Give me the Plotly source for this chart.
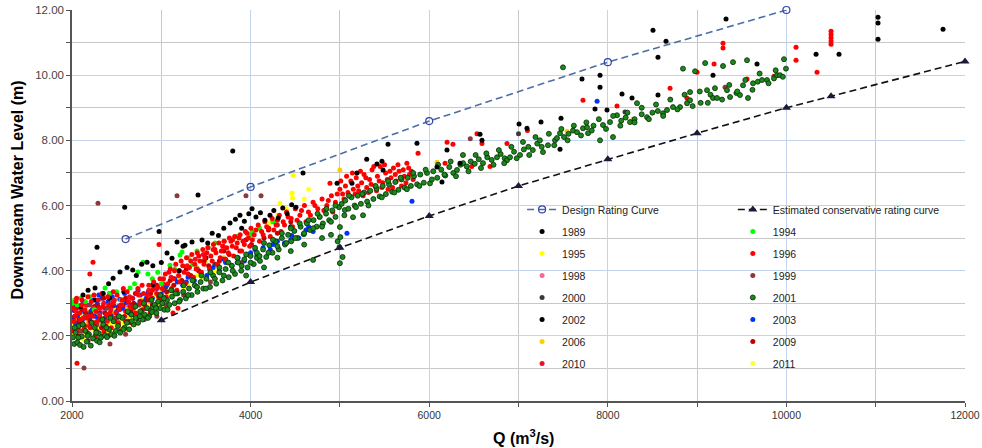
import plotly.graph_objects as go

# ---------------- data ----------------
design_q = [2600, 4000, 6000, 8000, 10000]
design_wl = [4.97, 6.57, 8.59, 10.40, 12.00]

cons_q = [3000, 4000, 5000, 6000, 7000, 8000, 9000, 10000, 10500, 12000]
cons_wl = [2.48, 3.65, 4.70, 5.68, 6.60, 7.42, 8.22, 9.00, 9.35, 10.42]

pts_1989 = [(2123,3.25),(2258,3.47),(2280,4.72),(2460,3.77),(2537,3.96),(2590,5.95),(2616,4.10),(2680,4.02),
            (2840,4.26),(2905,4.15),(2975,5.20),(3064,4.54),(3120,4.38),(3176,4.88),(3243,4.75),(3265,4.78),
            (3344,4.88),(3411,6.32),(3456,4.94),(3520,4.85),(3570,5.15),(3640,5.08),(3700,5.30),(3770,5.46),
            (3800,7.67),(3830,5.58),(3881,5.70),(3930,5.52),(3980,5.75),(4016,5.90),(4060,5.65),(4110,5.78),
            (4160,5.55),(4217,5.70),(4260,5.85),(4310,5.62),(4360,5.92),(4410,5.75),(4460,6.02),(4508,5.95),
            (4587,7.00),(4968,6.68),(5135,6.68),(5191,7.00),(5300,7.42),(5415,7.27),(5471,7.36),(5483,7.09),
            (5539,7.88),(5863,7.91),(6087,7.18),(6143,6.72),(6199,7.70),(6345,7.30),(6569,8.19),(6591,8.00),
            (7006,8.50),(7095,8.37),(7252,8.56),(7465,7.73),(7476,8.68),(7711,9.88),(7857,8.96),(7913,10.00),
            (7913,9.63),(7991,8.93),(8159,9.42),(8271,9.30),(8506,11.38),(8562,10.55),(8562,9.39),(8652,11.04),
            (9178,10.00),(9324,11.72),(9671,10.34),(10332,10.64),(10589,10.64),(11026,11.78),(11026,11.60),
            (11026,11.10),(11754,11.41),(2180,3.40),(2350,3.30),(2410,3.60),(2720,3.85),(2780,4.20),(3000,4.25)]

pts_1994 = [(2010,3.00),(2030,3.10),(2060,2.95),(2100,3.15),(2150,3.05),(2200,3.20),(2250,2.80),(2370,3.47),
            (2420,3.30),(2500,3.35),(2550,3.10),(2650,3.47),(2700,3.60),(2739,3.96),(2795,4.26),(2850,3.90),
            (2900,3.75),(2960,3.95),(3000,3.60),(3097,4.17),(3150,4.05),(3210,4.48),(3232,4.57),(3300,4.40),
            (3350,4.20),(3400,4.60),(3523,4.72),(3600,4.85),(3700,4.90),(3850,5.05),(4000,5.10),(4016,5.18),
            (4100,5.30),(4250,5.50)]

pts_1995 = [(2010,2.10),(2030,2.40),(2050,2.00),(2080,2.30),(2100,2.60),(2120,1.90),(2150,2.20),(2180,2.50),
            (2200,2.00),(2230,2.35),(2260,2.15),(2300,2.50),(2330,2.05),(2360,2.30),(2400,2.60),(2430,2.20),
            (2470,2.45),(2500,2.30),(2540,2.60),(2580,2.40),(2620,2.70),(2660,2.50),(2700,2.35),(2750,2.75),
            (2800,2.60),(2850,2.90),(2900,2.70),(2950,3.00),(3050,3.10),(3150,3.30),(3300,3.60),(3450,3.70),
            (3600,4.00),(4217,5.46),(4300,5.70),(4329,6.07),(4400,5.90),(4464,6.38),(4470,6.23),(4475,6.93),
            (2005,2.30),(2040,1.95),(2070,2.55),(2095,2.25),(2135,2.45),(2165,2.05),(2195,2.75),(2245,2.45),
            (2275,2.80),(2315,2.25),(2380,2.65),(2420,2.40),(2460,2.85),(2515,2.55),(2560,2.25),(2605,2.85),
            (2640,2.55),(2690,2.95),(2730,2.55),(2780,2.85),(2830,3.05),(2880,2.80),(2930,3.20),(2990,2.95),
            (3100,3.30),(3250,3.45),(3400,3.85)]

pts_1996 = [(2010,2.85),(2025,2.45),(2045,3.05),(2056,1.16),(2065,2.25),(2085,2.70),(2105,2.95),(2120,2.35),
            (2145,2.80),(2170,2.10),(2185,2.60),(2200,3.90),(2215,3.05),(2235,4.26),(2250,2.40),(2268,2.75),
            (2295,3.10),(2318,2.50),(2344,2.90),(2380,2.30),(2402,3.20),(2425,2.70),(2455,3.00),(2478,2.45),
            (2505,3.25),(2530,2.80),(2562,3.10),(2590,2.60),(2618,3.35),(2648,2.90),(2675,3.15),(2712,2.70),
            (2738,3.45),(2770,3.00),(2802,3.30),(2828,2.85),(2860,3.55),(2888,3.15),(2915,3.65),(2948,3.30),
            (2974,4.80),(2985,3.75),(3012,3.45),(3045,3.90),(3072,3.60),(3100,4.05),(3131,2.70),(3138,3.75),
            (3162,4.20),(3187,2.85),(3194,3.85),(3222,4.30),(3255,3.95),(3282,4.40),(3315,4.10),(3342,4.50),
            (3375,4.20),(3403,4.55),(3432,4.30),(3465,4.65),(3488,4.40),(3522,4.70),(3555,4.45),(3584,4.80),
            (3612,4.55),(3645,4.85),(3672,4.60),(3705,4.90),(3733,4.70),(3762,5.00),(3795,4.75),(3822,5.05),
            (3850,4.85),(3883,5.10),(3915,4.90),(3942,5.20),(3975,5.00),(4004,5.30),(4040,5.10),(4085,5.40),
            (4123,5.20),(4160,5.50),(4204,5.30),(4242,5.60),(4285,5.40),(4322,5.70),(4365,5.50),(4402,5.80),
            (4455,5.60),(4500,5.90),(4552,5.70),(4603,6.00),(4648,5.80),(4700,6.10),(4752,5.90),(4800,6.20),
            (4853,6.00),(4889,6.68),(4905,6.30),(4950,6.10),(5000,6.50),(5030,6.35),(5062,6.60),(5090,6.40),
            (5122,6.75),(5150,6.50),(5183,6.85),(5210,6.45),(5243,6.70),(5270,6.95),(5300,6.55),(5332,6.80),
            (5360,7.10),(5392,6.60),(5420,6.90),(5452,7.20),(5480,6.70),(5512,7.00),(5540,6.50),(5572,6.85),
            (5600,7.15),(5630,6.75),(5662,7.05),(5690,6.60),(5722,6.90),(5750,7.30),(5780,6.95),(5875,7.60),
            (6177,7.30),(6200,7.94),(6266,7.88),(6476,7.20),(6535,8.20),(6591,7.90),(6681,7.20),(6871,7.90),
            (7100,8.30),(7722,9.23),(8103,9.05),(8697,9.60),(8887,9.29),(9000,10.09),(9190,10.34),(9290,10.98),
            (9290,10.83),(9559,9.88),(9861,9.97),(10108,10.86),(10108,10.46),(10343,10.09),(10500,10.95),
            (10500,11.05),(10500,11.15),(10500,11.25),(10500,11.35),
            (2015,2.15),(2035,2.60),(2052,3.15),(2078,1.95),(2095,2.50),(2112,3.10),(2138,2.20),(2160,2.55),
            (2178,3.20),(2205,2.25),(2228,2.60),(2246,3.25),(2262,1.95),(2285,2.45),(2308,2.85),(2335,3.30),
            (2358,2.15),(2388,2.65),(2410,2.95),(2440,2.25),(2462,3.35),(2490,2.70),(2518,2.35),(2545,2.95),
            (2575,3.45),(2600,2.45),(2632,3.05),(2660,2.40),(2688,2.85),(2725,3.30),(2755,2.60),(2785,3.55),
            (2815,2.95),(2845,3.25),(2875,2.70),(2900,3.40),(2935,2.95),(2960,3.50),(2995,3.10),(3025,3.75),
            (3055,3.20),(3085,3.95),(3115,3.45),(3148,4.00),(3175,3.40),(3208,3.65),(3240,4.15),(3270,3.60),
            (3300,3.90),(3330,4.30),(3360,3.80),(3390,4.05),(3420,4.45),(3450,3.95),(3478,4.20),(3510,4.55),
            (3540,4.05),(3570,4.30),(3600,4.65),(3630,4.20),(3660,4.40),(3690,4.75),(3720,4.35),(3750,4.55),
            (3780,4.90),(3810,4.45),(3840,4.70),(3870,5.00),(3900,4.60),(3930,4.80),(3960,5.15),(3990,4.75),
            (4020,4.95),(4060,5.25),(4100,4.90),(4140,5.10),(4180,5.35),(4220,5.05),(4260,5.25),(4300,5.55),
            (4340,5.20),(4380,5.40),(4420,5.65),(4470,5.35),(4520,5.55),(4570,5.85),(4620,5.50),(4670,5.70),
            (4720,6.00),(4770,5.65),(4820,5.85),(4870,6.15),(4920,5.80),(4970,6.35),(5010,6.75),(5045,6.20),
            (5075,6.90),(5105,6.30),(5140,7.00),(5170,6.35),(5200,6.60),(5230,7.05),(5260,6.30),(5290,6.85),
            (5320,6.40),(5350,6.65),(5380,7.20),(5410,6.45),(5440,6.75),(5470,6.55),(5500,7.25),(5530,6.80),
            (5560,7.05),(5590,6.55),(5620,6.95),(5650,7.25),(5680,6.85),(5710,7.10),(5740,6.70),(5770,7.15),
            (5800,7.05),(5820,6.80)]

pts_1998 = [(2060,2.65),(2190,2.40),(2330,2.75),(2460,2.55),(2610,2.95),(2880,3.05),(3300,3.90)]

pts_1999 = [(2050,2.25),(2134,1.01),(2150,2.60),(2280,2.35),(2291,6.07),(2390,2.85),(2425,1.75),(2520,2.40),
            (2670,2.65),(2810,2.50),(3050,2.95),(3176,6.30),(3400,3.50),(3900,4.25),(3948,6.30),(4117,6.30),
            (4300,5.40),(9313,9.63),(2100,2.15),(2200,2.95),(2350,2.00),(2500,2.55),(2600,2.05),(2750,2.95),
            (2950,2.60),(3250,3.25),(3550,3.65),(6460,8.05)]

pts_2000 = [(2080,2.50),(2210,2.75),(2370,2.55),(2560,2.85),(2760,3.05),(3050,3.50),(3600,4.20),(7000,8.20),
            (8193,8.87)]

pts_2001 = [(2010,1.95),(2025,1.75),(2040,2.10),(2060,1.80),(2075,2.30),(2090,1.72),(2110,1.98),(2130,1.66),
            (2150,2.15),(2165,1.82),(2190,2.05),(2210,1.70),(2235,1.92),(2255,2.25),(2280,1.85),(2300,2.08),
            (2325,1.95),(2350,2.35),(2370,2.02),(2392,1.96),(2415,2.20),(2440,2.05),(2465,2.45),(2490,2.15),
            (2515,2.30),(2540,2.10),(2565,2.55),(2590,2.25),(2615,2.40),(2640,2.20),(2665,2.65),(2690,2.35),
            (2715,2.55),(2740,2.40),(2765,2.75),(2790,2.50),(2815,2.65),(2840,2.85),(2865,2.60),(2885,2.78),
            (2896,2.73),(2907,2.88),(2925,2.95),(2945,2.70),(2965,3.05),(2985,2.85),(3010,3.00),(3035,2.80),
            (3064,3.10),(3090,2.95),(3120,3.20),(3150,3.00),(3180,3.30),(3210,3.10),(3245,3.35),(3275,3.15),
            (3310,3.45),(3340,3.25),(3375,3.55),(3405,3.35),(3440,3.65),(3470,3.45),(3505,3.75),(3545,3.50),
            (3580,3.85),(3615,3.60),(3650,3.95),(3685,3.70),(3720,4.05),(3755,3.80),(3790,4.15),(3825,3.90),
            (3860,4.25),(3895,4.00),(3930,4.35),(3950,3.85),(3965,4.10),(4000,4.45),(4035,4.20),(4070,4.55),
            (4072,4.39),(4105,4.30),(4140,4.65),(4150,4.10),(4175,4.42),(4210,4.78),(4245,4.55),(4280,4.90),
            (4300,4.40),(4315,4.65),(4350,5.00),(4385,4.80),(4420,5.10),(4450,4.60),(4455,4.90),(4490,5.22),
            (4525,5.00),(4560,5.35),(4595,5.12),(4600,4.80),(4630,5.45),(4665,5.25),(4700,4.33),(4705,5.55),
            (4740,5.35),(4775,5.65),(4800,5.00),(4810,5.45),(4845,5.75),(4880,5.55),(4900,5.10),(4915,5.85),
            (4950,5.65),(4975,4.90),(4990,5.95),(5000,5.34),(5005,5.03),(4995,4.72),(5030,4.42),(5000,4.23),
            (5020,6.05),(5055,5.86),(5060,6.15),(5095,5.90),(5130,6.25),(5147,5.64),(5165,6.00),(5200,6.30),
            (5235,6.05),(5259,5.70),(5270,6.40),(5305,6.12),(5340,6.45),(5375,6.20),(5410,6.52),(5445,6.28),
            (5480,6.60),(5515,6.35),(5550,6.65),(5585,6.42),(5620,6.72),(5655,6.48),(5690,6.80),(5725,6.55),
            (5760,6.85),(5795,6.60),(5830,6.90),(5865,6.65),(5900,6.95),(5940,6.70),(5975,7.00),(6009,6.68),
            (6045,7.05),(6090,6.85),(6135,7.10),(6180,6.92),(6225,7.18),(6270,7.00),(6311,7.09),(6350,7.25),
            (6378,7.55),(6420,7.20),(6465,7.35),(6510,7.28),(6555,7.42),(6602,7.30),(6650,7.48),(6700,7.40),
            (6759,7.48),(6800,7.58),(6845,7.45),(6871,7.39),(6905,7.48),(6950,7.65),(7017,7.55),(7060,7.72),
            (7110,7.80),(7160,7.70),(7210,7.90),(7240,8.00),(7274,7.64),(7330,7.85),(7409,8.00),(7431,8.07),
            (7465,8.22),(7498,10.24),(7510,8.10),(7560,8.20),(7610,8.30),(7655,8.25),(7722,8.37),(7767,8.40),
            (7779,8.22),(7840,8.45),(7913,8.00),(7946,8.47),(8025,8.56),(8058,8.10),(8103,8.77),(8150,8.60),
            (8200,8.70),(8249,8.56),(8300,8.65),(8327,9.14),(8380,8.80),(8439,8.71),(8500,8.85),(8560,8.90),
            (8618,8.83),(8663,8.93),(8730,9.02),(8809,9.02),(8842,10.20),(8887,9.14),(8921,9.23),(8921,9.48),
            (8977,10.12),(9040,9.15),(9090,10.37),(9111,9.54),(9150,9.40),(9178,9.30),(9223,9.30),(9290,10.28),
            (9335,9.54),(9369,9.33),(9402,10.40),(9440,9.45),(9480,9.39),(9514,9.69),(9559,10.46),(9570,9.30),
            (9626,9.75),(9680,9.80),(9727,9.85),(9783,9.85),(9861,9.90),(9895,10.00),(9928,10.00),(9973,10.49),
            (9995,10.20),
            (2030,2.25),(2070,1.95),(2120,2.35),(2175,2.00),(2220,2.40),(2270,2.10),(2310,1.80),(2340,2.50),
            (2385,2.25),(2430,2.55),(2475,2.00),(2525,2.60),(2575,2.20),(2625,2.75),(2670,2.45),(2710,2.90),
            (2760,2.60),(2805,3.00),(2850,2.55),(2890,3.10),(2940,2.85),(2990,3.25),(3030,3.15),(3070,2.80),
            (3110,3.40),(3160,3.30),(3200,3.05),(3250,3.55),(3300,3.25),(3350,3.70),(3400,3.50),(3450,3.85),
            (3500,3.45),(3550,3.95),(3600,3.75),(3650,4.10),(3700,3.85),(3750,4.25),(3800,4.00),(3850,4.40),
            (3900,4.15),(3950,4.50),(4000,4.25),(4050,4.70),(4100,4.45),(4150,4.85),(4200,4.55),(4250,4.95),
            (4300,4.75),(4350,5.15),(4400,4.85),(4450,5.30),(4500,5.00),(4550,5.45),(4600,5.15),(4650,5.55),
            (4700,5.30),(4750,5.75),(4800,5.35),(4850,5.90),(4900,5.50),(4950,6.00),(5050,5.70),(5100,6.30),
            (5180,5.95),(5250,6.35),(5320,6.00),(5400,6.60),(5470,6.25),(5540,6.75),(5610,6.40),(5680,6.85),
            (5750,6.50),(5820,7.00),(5890,6.60),(5960,7.10),(6030,6.80),(6100,7.25),(6170,6.95),(6240,7.35),
            (6300,6.90),(6380,7.30),(6440,7.05),(6520,7.55),(6580,7.15),(6640,7.60),(6720,7.25),(6780,7.70),
            (6840,7.30),(6920,7.80),(6980,7.45),(7050,7.95),(7120,7.55),(7190,8.10),(7260,7.80),(7340,8.20),
            (7400,7.85),(7480,8.35),(7550,8.00),(7620,8.45),(7700,8.15),(7760,8.55),(7820,8.30),(7900,8.65),
            (7980,8.35),(8060,8.75),(8140,8.45),(8220,8.85),(8300,8.55),(8380,9.00),(8460,8.65),(8540,9.10),
            (8620,8.75),(8700,9.25),(8780,8.95),(8860,9.40),(8950,9.05),(9030,9.50),(9120,9.15),(9200,9.60),
            (9280,9.25),(9360,9.70),(9450,9.50),(9540,9.85),(9620,9.55),(9700,10.05),(9800,9.75),(9880,10.15),
            (9960,9.95)]

pts_2002 = [(2100,2.90),(2260,3.10),(2420,3.15),(2580,3.35),(2900,3.55),(3200,4.00),(3500,4.40),(3900,5.30),
            (4450,5.35)]

pts_2003 = [(2008,2.55),(2020,2.78),(2040,2.38),(2062,2.62),(2088,2.88),(2115,2.48),(2142,2.72),(2170,2.95),
            (2198,2.52),(2225,2.80),(2255,2.60),(2285,2.98),(2300,3.25),(2312,2.70),(2345,2.45),(2372,2.85),
            (2405,3.05),(2420,3.30),(2438,2.62),(2468,2.92),(2500,2.75),(2535,3.12),(2570,2.85),(2605,3.02),
            (2640,2.70),(2680,3.15),(2720,2.95),(2765,3.25),(2810,3.05),(2855,3.35),(2900,3.15),(2950,3.45),
            (3000,3.28),(3060,3.55),(3120,3.40),(3180,3.65),(3240,3.55),(3300,3.80),(3370,3.70),(3440,3.95),
            (3510,3.85),(3580,4.10),(3650,4.00),(3720,4.25),(3790,4.15),(3860,4.40),(3930,4.30),(4000,4.55),
            (4070,4.45),(4140,4.70),(4220,4.65),(4300,4.90),(4380,4.85),(4460,5.08),(4540,5.00),(4620,5.25),
            (4700,5.20),(4800,5.40),(5079,5.15),(5807,6.13),
            (2030,2.95),(2075,2.42),(2125,3.00),(2185,2.65),(2240,3.10),(2290,2.55),(2335,3.15),(2385,2.65),
            (2450,3.20),(2520,2.90),(2590,3.30),(2660,2.95),(2740,3.40),(2830,3.15),(2920,3.55),(3030,3.40),
            (3150,3.75),(3280,3.65),(3400,4.05),(3550,3.95),(3700,4.35),(3850,4.25),(4050,4.65),(4250,4.80),
            (4450,4.95),(4650,5.35),(7880,9.20)]

pts_2006 = [(2020,2.20),(2060,2.50),(2110,2.10),(2170,2.40),(2210,2.25),(2280,2.60),(2340,2.40),(2390,2.10),
            (2450,2.70),(2520,2.50),(2600,2.20),(2680,2.80),(2780,3.10),(2880,3.20),(3000,3.40),(3200,3.80),
            (3400,4.10),(3700,4.40),(4100,5.30),(5000,7.09),(6087,7.33),(7543,8.28),(8282,8.65)]

pts_2009 = [(2030,2.60),(2070,2.00),(2110,2.80),(2140,2.30),(2180,1.85),(2220,2.65),(2260,2.00),(2290,2.90),
            (2330,2.25),(2370,2.70),(2410,2.00),(2440,2.90),(2490,2.55),(2540,2.15),(2570,2.95),(2630,2.45),
            (2690,3.00),(2730,2.55),(2790,2.80),(2840,3.10),(2900,2.95),(2970,3.20),(3060,3.35),(3140,3.55),
            (3230,3.70),(3330,3.85),(3420,4.00),(3530,4.15),(3650,4.30),(3760,4.50),(3880,4.60),(4010,4.80),
            (4150,5.00),(4300,5.15),
            (2050,2.85),(2095,2.40),(2155,2.70),(2205,2.45),(2250,2.90),(2315,2.55),(2355,3.15),(2425,2.65),
            (2465,3.05),(2520,2.85),(2600,3.15),(2660,2.75),(2710,3.30),(2770,3.05),(2880,3.30),(2950,3.55),
            (3100,3.70),(3280,4.05),(3480,4.30),(3700,4.60),(3950,4.95),(4200,5.25),(4450,5.50)]

pts_2010 = [(2015,2.45),(2045,2.75),(2085,2.15),(2125,2.55),(2160,2.95),(2195,2.30),(2240,2.85),(2275,2.15),
            (2310,2.65),(2355,3.00),(2395,2.45),(2435,2.80),(2475,3.10),(2515,2.60),(2555,2.95),(2600,2.75),
            (2645,3.20),(2695,2.90),(2745,3.25),(2800,3.00),(2860,3.40),(2930,3.45),(3020,3.60),(3110,3.80),
            (3200,4.00),(3290,4.15),(3380,4.35),(3470,4.50),(3580,4.65),(3690,4.75),(3800,4.95)]

pts_2011 = [(2040,2.30),(2130,2.45),(2240,2.20),(2350,2.55),(2480,2.35),(2560,2.80),(2720,2.60),(2820,2.95),
            (3120,3.50),(3500,4.30),(4600,6.20),(4650,6.50)]

# name, points, colour, legend column, rank within column
series = [
    ("1995", pts_1995, "#ffff00", "legend", 3),
    ("2006", pts_2006, "#ffcc00", "legend", 7),
    ("2011", pts_2011, "#ffff33", "legend2", 8),
    ("1998", pts_1998, "#ff6699", "legend", 4),
    ("2000", pts_2000, "#3a3a3a", "legend", 5),
    ("2003", pts_2003, "#0033ff", "legend2", 6),
    ("2009", pts_2009, "#c00000", "legend2", 7),
    ("2010", pts_2010, "#ee1020", "legend", 8),
    ("1999", pts_1999, "#8b3a3a", "legend2", 4),
    ("2002", pts_2002, "#000000", "legend", 6),
    ("1994", pts_1994, "#00ff00", "legend2", 2),
    ("1996", pts_1996, "#ff0000", "legend2", 3),
    ("2001", pts_2001, "#1a8a1a", "legend2", 5),
    ("1989", pts_1989, "#000000", "legend", 2),
]

fig = go.Figure()
for name, pts, col, leg, rank in series:
    xs = [p[0] for p in pts]
    ys = [p[1] for p in pts]
    mk = dict(size=5, color=col)
    if name == "2001":
        mk = dict(size=5, color=col, line=dict(color="#0a2a0a", width=0.8))
    fig.add_trace(go.Scatter(x=xs, y=ys, mode="markers", name=name, marker=mk,
                             legend=leg, legendrank=rank, legendgroup=name))

fig.add_trace(go.Scatter(x=design_q, y=design_wl, mode="lines+markers", name="Design Rating Curve",
                         line=dict(color="#4a6fa5", width=1.6, dash="7px,4px"),
                         marker=dict(symbol="circle-open", size=7, color="#3344aa", line=dict(width=1.2)),
                         cliponaxis=False, legend="legend", legendrank=1, legendgroup="design"))
fig.add_trace(go.Scatter(x=cons_q, y=cons_wl, mode="lines+markers", name="Estimated conservative rating curve",
                         line=dict(color="#111111", width=1.6, dash="7px,4px"),
                         marker=dict(symbol="triangle-up", size=8, color="#1a1a3a"),
                         cliponaxis=False, legend="legend2", legendrank=1, legendgroup="cons"))

FAM = "Arial, Liberation Sans, Helvetica, sans-serif"
legfont = dict(size=10.5, family=FAM, color="#222222")
fig.update_layout(
    width=982, height=448,
    margin=dict(l=72, r=17, t=10, b=47, autoexpand=False),
    paper_bgcolor="white", plot_bgcolor="white",
    font=dict(family=FAM, color="#333333"),
    showlegend=True,
    legend=dict(x=0.504, y=0.527, xanchor="left", yanchor="top", bgcolor="rgba(255,255,255,0)",
                font=legfont, traceorder="grouped", tracegroupgap=3, itemwidth=30),
    legend2=dict(x=0.740, y=0.527, xanchor="left", yanchor="top", bgcolor="rgba(255,255,255,0)",
                 font=legfont, traceorder="grouped", tracegroupgap=3, itemwidth=30),
    xaxis=dict(range=[2000, 12000], tick0=2000, dtick=2000, tickformat="d", showgrid=True,
               gridcolor="#c5d4ee", gridwidth=1,
               minor=dict(dtick=1000, showgrid=True, gridcolor="#c8c8c8", ticks="outside", ticklen=4,
                          tickcolor="#555555"),
               ticks="outside", ticklen=4, tickcolor="#555555", showline=True, linecolor="#555555", linewidth=1.5,
               tickfont=dict(size=10.5, color="#333333", family=FAM), zeroline=False),
    yaxis=dict(range=[0, 12], tick0=0, dtick=2, tickformat=".2f", showgrid=True, gridcolor="#c5d4ee", gridwidth=1,
               minor=dict(dtick=1, showgrid=True, gridcolor="#c8c8c8", ticks="outside", ticklen=4,
                          tickcolor="#555555"),
               ticks="outside", ticklen=4, tickcolor="#555555", showline=True, linecolor="#555555", linewidth=1.5,
               tickfont=dict(size=11.5, color="#444444", family=FAM), zeroline=False),
    shapes=[dict(type="rect", xref="paper", yref="paper", x0=0.5106, x1=0.983, y0=0.0665, y1=0.5166,
                 fillcolor="white", line=dict(width=0), layer="between")],
    annotations=[
        dict(text="<b>Downstream Water Level (m)</b>", xref="paper", yref="paper", x=-0.061, y=0.54,
             textangle=-90, showarrow=False, font=dict(size=16, color="black", family=FAM),
             xanchor="center", yanchor="middle"),
        dict(text="<b>Q (m<sup>3</sup>/s)</b>", xref="paper", yref="paper", x=0.506, y=-0.092,
             showarrow=False, font=dict(size=16, color="black", family=FAM), xanchor="center", yanchor="middle"),
    ],
)

# remove the browser's default 8px page margin so the 982x448 figure fills the window exactly
fig.write_html("out.html", config={"displayModeBar": False},
               post_script="document.body.style.margin='0';")
